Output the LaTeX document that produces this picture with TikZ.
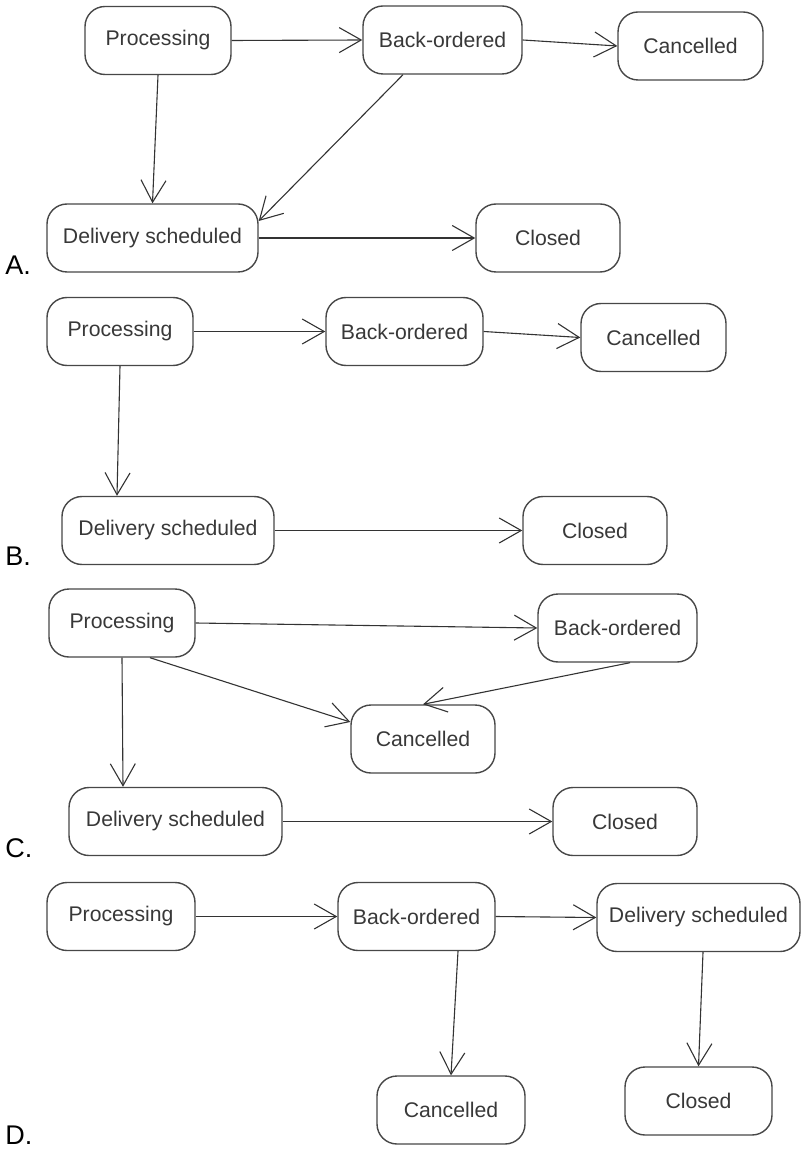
\documentclass[tikz,border=0pt]{standalone}
\usepackage{fontspec}
\setmainfont{Liberation Sans}
\usetikzlibrary{arrows.meta}

\begin{document}
\begin{tikzpicture}[x=0.5pt,y=-0.5pt,
  estado/.style={draw=black!72, line width=0.7pt, rounded corners=10pt, inner sep=0pt,
    minimum height=34pt, text=black!78, font=\fontsize{10.6}{12}\selectfont},
  flecha/.style={draw=black!80, line width=0.55pt,
    -{Straight Barb[length=11pt,width=12.5pt,line width=0.55pt]}},
  letra/.style={anchor=base west, inner sep=0pt, font=\fontsize{13.5}{15}\selectfont}]
\useasboundingbox (0,0) rectangle (803,1149);

% Diagrama A
\node[estado, minimum width=73pt]   (procA) at (158,40.5) {Processing};
\node[estado, minimum width=79.5pt] (boA)   at (442.5,40) {Back-ordered};
\node[estado, minimum width=72.5pt] (canA)  at (690.5,46) {Cancelled};
\node[estado, minimum width=105.5pt] (delA) at (152.5,238) {Delivery scheduled};
\node[estado, minimum width=72pt]   (cloA)  at (548,238) {Closed};
\node[letra] (labA) at (5,275) {A.};

\foreach \a/\b in {procA/boA, boA/canA, delA/cloA}
  \draw[flecha] (\a.east) -- (\b.west);
\draw[flecha] (procA.south) -- (delA.north);
\draw[flecha] ([xshift=-19.75pt]boA.south) -- ([yshift=8.5pt]delA.east);

% Diagrama B
\node[estado, minimum width=73pt]   (procB) at (120,331.5) {Processing};
\node[estado, minimum width=78.5pt] (boB)   at (404.5,331.5) {Back-ordered};
\node[estado, minimum width=72.5pt] (canB)  at (653.5,337.5) {Cancelled};
\node[estado, minimum width=106pt]  (delB)  at (168,530.5) {Delivery scheduled};
\node[estado, minimum width=72pt]   (cloB)  at (595,530.5) {Closed};
\node[letra] (labB) at (5,565) {B.};

\foreach \a/\b in {procB/boB, boB/canB, delB/cloB}
  \draw[flecha] (\a.east) -- (\b.west);
\draw[flecha] (procB.south) -- ([xshift=-25.5pt]delB.north);

% Diagrama C
\node[estado, minimum width=73pt]   (procC) at (122,623) {Processing};
\node[estado, minimum width=79.5pt] (boC)   at (617.5,628) {Back-ordered};
\node[estado, minimum width=72pt]   (canC)  at (423,739) {Cancelled};
\node[estado, minimum width=106.5pt] (delC) at (175.5,821.5) {Delivery scheduled};
\node[estado, minimum width=72pt]   (cloC)  at (625,821.5) {Closed};
\node[letra] (labC) at (5,857) {C.};

\foreach \a/\b in {procC/boC, delC/cloC}
  \draw[flecha] (\a.east) -- (\b.west);
\draw[flecha] ([xshift=14pt]procC.south) -- ([yshift=8.5pt]canC.west);
\draw[flecha] ([xshift=6.25pt]boC.south) -- (canC.north);
\draw[flecha] (procC.south) -- ([xshift=-26.25pt]delC.north);

% Diagrama D
\node[estado, minimum width=74pt]   (procD) at (121,916.5) {Processing};
\node[estado, minimum width=78.5pt] (boD)   at (416.5,916.5) {Back-ordered};
\node[estado, minimum width=101.5pt] (delD) at (698.5,917.5) {Delivery scheduled};
\node[estado, minimum width=74pt]   (canD)  at (451,1110) {Cancelled};
\node[estado, minimum width=73.5pt] (cloD)  at (698.5,1101) {Closed};
\node[letra] (labD) at (5,1144) {D.};

\foreach \a/\b in {procD/boD, boD/delD}
  \draw[flecha] (\a.east) -- (\b.west);
\draw[flecha] ([xshift=20.75pt]boD.south) -- (canD.north);
\draw[flecha] ([xshift=2.25pt]delD.south) -- (cloD.north);

\end{tikzpicture}
\end{document}
